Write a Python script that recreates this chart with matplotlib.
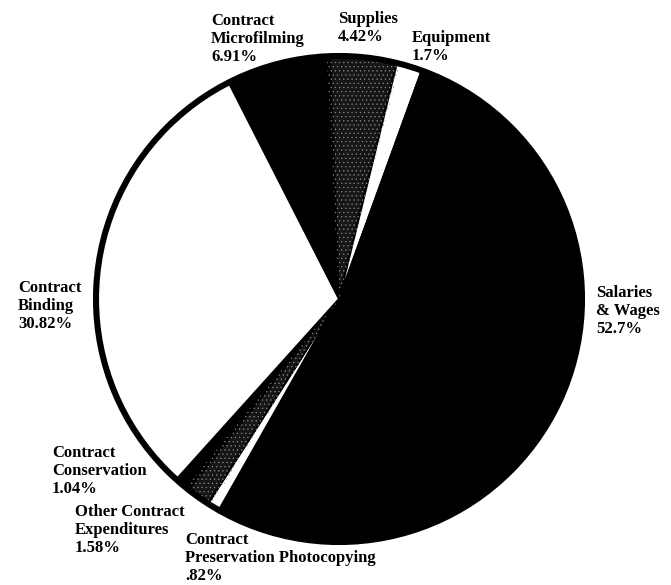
import matplotlib.pyplot as plt
from matplotlib.patches import Circle, Wedge

labels = ["Contract\nMicrofilming\n6.91%", "Supplies\n4.42%", "Equipment\n1.7%",
          "Salaries\n& Wages\n52.7%", "Contract\nPreservation Photocopying\n.82%",
          "Other Contract\nExpenditures\n1.58%", "Contract\nConservation\n1.04%",
          "Contract\nBinding\n30.82%"]
values = [6.91, 4.42, 1.7, 52.7, 0.82, 1.58, 1.04, 30.82]
colors = ["black", "#161616", "white", "black", "white", "#161616", "black", "white"]
stippled = [False, True, False, False, False, True, False, False]
# label anchor (top-left) in pixels
label_pos = [(211, 13), (338, 11), (412, 30), (596, 285), (185, 532),
             (75, 504), (52, 445), (18, 280)]

W, H = 671, 585
fig = plt.figure(figsize=(W / 100, H / 100), dpi=100)
cx, cy, r = 339, 299, 246
ax = fig.add_axes([(cx - r) / W, (H - cy - r) / H, 2 * r / W, 2 * r / H])
wedges, _ = ax.pie(values, colors=colors, startangle=117, counterclock=False,
                   wedgeprops=dict(edgecolor="black", linewidth=1.5))
plt.rcParams["hatch.linewidth"] = 0.4
for w, s in zip(wedges, stippled):
    if s:
        ax.add_patch(Wedge(w.center, w.r * 0.99, w.theta1 - 0.8, w.theta2 + 0.8,
                           fill=False, edgecolor="#8a8a8a", hatch="....", linewidth=0))
ax.add_patch(Circle((0, 0), 1.0, fill=False, edgecolor="black", linewidth=4.4))
lim = 246 / 243
ax.set_xlim(-lim, lim)
ax.set_ylim(-lim, lim)
ax.set_aspect("equal")
ax.axis("off")

for lab, (x, y) in zip(labels, label_pos):
    fig.text(x / W, 1 - y / H, lab, ha="left", va="top", fontsize=12,
             fontweight="bold", family="Liberation Serif", linespacing=1.17)

fig.savefig("out.png", dpi=100)
